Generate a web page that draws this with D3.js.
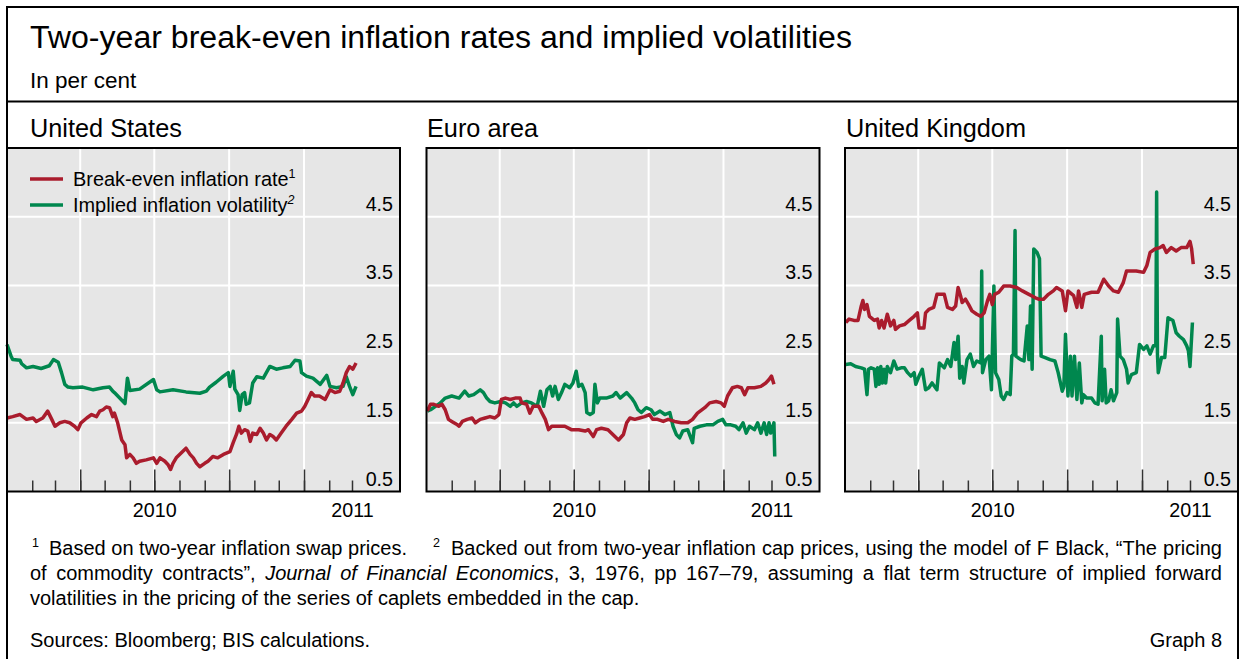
<!DOCTYPE html>
<html>
<head>
<meta charset="utf-8">
<script src="https://cdn.jsdelivr.net/npm/d3@7"></script>
<style>
  body { margin: 0; background: #fff; }
  svg text { font-family: "Liberation Sans", Arial, sans-serif; fill: #000; }
</style>
</head>
<body>
<div id="container"></div>
<script>
/* CONSTANTS AND GLOBALS */
const width = 1239,
  height = 659,
  plotTop = 148,
  plotBottom = 491.5,
  plotW = 393,
  plotLefts = [7, 426.5, 845],
  titleXs = [30, 427, 846],
  red = "#aa1c2d",
  green = "#00874e";

const start = new Date(2010, 0, 1),
  end = new Date(2011, 3, 29);

/* DATA  (days after 1 Jan 2010, per cent) */
const panelTitles = ["United States", "Euro area", "United Kingdom"];
const seriesNames = ["Break-even inflation rate", "Implied inflation volatility"];
const yTicks = [0.5, 1.5, 2.5, 3.5, 4.5];
const yearLabels = ["2010", "2011"];

const usBeiDays = [0,7,16,24,32,36,44,50,55,59,65,71,77,83,87,91,98,104,110,114,118,122,126,130,132,136,141,145,147,151,155,159,163,171,180,184,188,194,198,201,204,208,214,220,225,229,233,237,243,247,253,259,266,274,278,282,285,288,292,296,299,302,307,311,315,319,323,327,331,337,343,350,356,362,366,370,374,378,384,391,397,403,409,413,417,421,425,429];
const usBeiVals = [1.57,1.59,1.62,1.55,1.57,1.52,1.57,1.67,1.55,1.45,1.50,1.52,1.50,1.45,1.40,1.50,1.57,1.62,1.59,1.67,1.69,1.73,1.72,1.59,1.64,1.50,1.25,1.18,0.99,1.04,0.99,0.91,0.94,0.96,0.99,0.91,0.99,0.94,0.89,0.82,0.91,0.99,1.06,1.13,1.04,0.99,0.91,0.86,0.91,0.94,1.01,0.99,1.04,1.08,1.21,1.33,1.45,1.35,1.40,1.38,1.23,1.35,1.33,1.42,1.35,1.25,1.33,1.30,1.25,1.35,1.45,1.55,1.64,1.67,1.74,1.84,1.94,1.89,1.89,1.84,1.98,1.94,1.96,2.08,2.23,2.32,2.28,2.37];

const usVolDays = [0,5,7,16,18,24,32,42,52,57,63,67,71,75,81,93,106,118,126,130,132,145,148,151,163,180,184,188,204,220,237,245,249,257,266,272,274,278,280,284,286,289,292,294,298,302,307,315,323,331,339,348,354,360,362,368,376,385,393,397,405,413,417,421,425,429];
const usVolVals = [2.64,2.47,2.42,2.41,2.36,2.30,2.32,2.29,2.33,2.42,2.38,2.23,2.06,2.02,2.01,2.02,1.98,2.01,2.02,1.96,1.94,1.78,2.15,1.97,1.99,2.13,1.98,1.95,1.98,1.95,1.93,1.96,2.02,2.09,2.18,2.23,2.03,2.25,1.99,1.91,1.68,1.91,1.94,1.77,1.79,2.08,2.17,2.15,2.32,2.28,2.30,2.32,2.41,2.40,2.23,2.18,2.15,2.06,2.19,2.03,2.01,2.03,2.17,2.03,1.91,2.03];

const eaBeiDays = [1,5,9,15,19,23,27,31,38,40,44,50,56,60,66,72,78,84,89,92,97,103,109,115,117,123,127,131,138,142,146,150,154,162,170,178,187,195,199,205,209,215,223,229,236,242,246,250,256,262,268,274,278,284,291,297,305,313,321,327,333,342,348,356,362,366,370,376,382,387,391,395,403,411,417,421,424,427];
const eaBeiVals = [1.67,1.77,1.77,1.74,1.77,1.69,1.55,1.52,1.47,1.45,1.52,1.55,1.57,1.50,1.55,1.57,1.59,1.57,1.62,1.84,1.86,1.84,1.86,1.86,1.79,1.77,1.64,1.74,1.74,1.64,1.55,1.40,1.45,1.45,1.45,1.40,1.40,1.38,1.40,1.30,1.40,1.42,1.40,1.33,1.25,1.33,1.50,1.57,1.55,1.57,1.59,1.62,1.55,1.55,1.52,1.55,1.52,1.50,1.50,1.55,1.64,1.72,1.79,1.81,1.79,1.74,1.89,2.01,2.03,2.01,1.91,2.01,2.01,2.03,2.08,2.13,2.18,2.06];

const eaVolDays = [1,5,11,17,23,31,40,47,52,58,66,70,74,78,84,91,97,103,107,111,117,123,129,136,140,144,148,152,155,158,162,166,170,176,180,184,187,191,195,197,201,205,207,210,213,221,229,233,238,246,252,256,260,264,270,276,280,287,293,299,303,307,311,315,321,327,329,336,344,352,358,364,368,374,380,384,389,393,397,403,407,411,415,418,421,423,427,428];
const eaVolVals = [1.67,1.69,1.74,1.79,1.86,1.89,1.86,1.96,1.89,1.91,1.98,1.94,1.86,1.81,1.79,1.81,1.79,1.74,1.79,1.74,1.79,1.81,1.79,1.74,1.96,1.74,1.98,2.03,1.89,2.03,1.84,1.94,2.06,2.01,2.08,2.25,2.03,2.06,1.94,1.65,1.62,1.65,2.06,1.79,1.86,1.86,1.89,1.94,1.86,1.94,1.86,1.79,1.69,1.65,1.72,1.69,1.62,1.67,1.62,1.65,1.45,1.33,1.28,1.38,1.40,1.21,1.42,1.45,1.47,1.47,1.52,1.55,1.47,1.47,1.45,1.40,1.50,1.35,1.45,1.40,1.50,1.35,1.50,1.33,1.50,1.35,1.50,1.01];

const ukBeiDays = [1,5,11,16,20,22,24,27,30,36,40,42,45,48,52,56,60,62,67,73,79,85,89,91,97,99,103,109,113,122,126,132,136,139,142,144,148,152,156,162,167,171,175,178,181,184,189,195,203,211,218,226,234,238,244,250,256,260,267,271,274,281,285,287,291,294,303,311,318,324,330,336,342,346,350,358,367,371,375,381,387,391,395,401,407,413,420,424,426,428];
const ukBeiVals = [2.96,3.01,2.99,2.99,3.20,3.28,3.15,3.22,3.05,2.99,3.01,2.88,2.99,2.88,3.08,2.91,2.99,2.86,2.91,2.93,2.99,3.05,3.10,2.88,2.88,3.10,3.15,3.18,3.37,3.37,3.18,3.15,3.20,3.47,3.35,3.25,3.30,3.22,3.13,3.08,3.05,3.10,3.27,3.37,3.22,3.37,3.40,3.49,3.49,3.47,3.42,3.37,3.32,3.30,3.30,3.37,3.42,3.47,3.42,3.13,3.42,3.35,3.18,3.42,3.18,3.37,3.40,3.40,3.59,3.49,3.42,3.40,3.54,3.71,3.71,3.71,3.69,3.79,3.98,4.03,4.05,4.08,3.98,4.05,4.00,4.05,4.05,4.14,4.03,3.81];

const ukVolDays = [1,7,13,20,24,27,29,32,36,38,40,42,44,46,48,50,52,56,60,64,69,73,77,81,85,87,91,95,99,103,107,113,116,122,126,130,134,136,139,141,144,146,150,154,158,162,167,168,169,173,177,180,183,185,189,192,195,199,203,205,207,209,210,216,220,224,226,228,230,232,236,239,241,246,252,258,262,267,269,271,274,277,279,282,285,288,291,293,297,303,307,311,315,316,319,321,324,327,330,334,335,338,342,346,348,352,358,362,367,371,375,379,382,383,384,385,389,393,397,403,407,411,416,420,422,424,427];
const ukVolVals = [2.35,2.36,2.32,2.30,2.28,1.91,2.28,2.30,2.28,2.03,2.30,2.06,2.32,2.08,2.28,2.08,2.32,2.23,2.40,2.28,2.30,2.30,2.23,2.18,2.23,2.06,2.18,2.28,1.98,2.01,2.08,1.98,2.37,2.30,2.42,2.32,2.67,2.42,2.76,2.15,2.32,2.08,2.42,2.50,2.32,2.40,2.37,3.71,2.23,2.42,2.47,1.98,3.49,2.23,2.13,1.89,1.84,1.94,1.91,2.47,2.50,4.30,2.47,2.42,2.40,2.91,2.42,3.20,2.28,4.03,3.98,3.89,2.47,2.45,2.42,2.40,2.23,1.96,2.03,2.79,1.89,2.47,1.89,2.47,1.84,2.37,1.79,1.91,1.86,1.86,1.79,1.77,2.76,1.82,2.28,1.79,1.82,1.98,1.82,1.94,3.01,2.47,2.42,2.28,2.08,2.20,2.23,2.64,2.57,2.62,2.50,2.62,2.62,4.86,2.50,2.23,2.45,2.45,3.03,2.99,2.81,2.76,2.71,2.62,2.55,2.32,2.96];

const panels = [
  { bei: [usBeiDays, usBeiVals], vol: [usVolDays, usVolVals] },
  { bei: [eaBeiDays, eaBeiVals], vol: [eaVolDays, eaVolVals] },
  { bei: [ukBeiDays, ukBeiVals], vol: [ukVolDays, ukVolVals] }
];

const toPoints = ([days, vals]) =>
  days.map((d, i) => ({ date: d3.timeDay.offset(start, d), value: vals[i] }));

/* HTML ELEMENTS */
const svg = d3.select("#container")
  .append("svg")
  .attr("width", width)
  .attr("height", height);

// outer frame + header divider
svg.append("rect")
  .attr("x", 7).attr("y", 7)
  .attr("width", 1231).attr("height", 700)
  .attr("fill", "none").attr("stroke", "#000").attr("stroke-width", 2);

svg.append("line")
  .attr("x1", 7).attr("x2", 1238)
  .attr("y1", 101.5).attr("y2", 101.5)
  .attr("stroke", "#000").attr("stroke-width", 2);

svg.append("text")
  .attr("x", 30).attr("y", 48)
  .style("font-size", "32.1px")
  .text("Two-year break-even inflation rates and implied volatilities");

svg.append("text")
  .attr("x", 30).attr("y", 88)
  .style("font-size", "22.5px")
  .text("In per cent");

/* PANELS */
const y = d3.scaleLinear().domain([0.5, 5.5]).range([plotBottom, plotTop]);

const minorTicks = d3.timeMonth.range(new Date(2010, 1, 1), new Date(2011, 3, 1));
const majorTicks = minorTicks.filter(d => d.getMonth() % 3 === 0);
const yearTickDates = [new Date(2010, 6, 1), new Date(2011, 2, 1)];

panels.forEach((p, i) => {
  const left = plotLefts[i];
  const x = d3.scaleTime().domain([start, end]).range([left, left + plotW]);
  const g = svg.append("g");

  g.append("text")
    .attr("x", titleXs[i]).attr("y", 137)
    .style("font-size", "25.3px")
    .text(panelTitles[i]);

  // background
  g.append("rect")
    .attr("x", left).attr("y", plotTop)
    .attr("width", plotW).attr("height", plotBottom - plotTop)
    .attr("fill", "#e6e6e6");

  // grid
  g.selectAll(".hgrid")
    .data(yTicks.slice(1))
    .join("line")
    .attr("x1", left).attr("x2", left + plotW)
    .attr("y1", d => y(d)).attr("y2", d => y(d))
    .attr("stroke", "#fff").attr("stroke-width", 2);

  g.selectAll(".vgrid")
    .data(majorTicks)
    .join("line")
    .attr("x1", d => x(d)).attr("x2", d => x(d))
    .attr("y1", plotTop).attr("y2", plotBottom)
    .attr("stroke", "#fff").attr("stroke-width", 2);

  // month ticks (inward)
  const minorAxis = d3.axisBottom(x).tickValues(minorTicks).tickSize(-11).tickFormat("");
  const majorAxis = d3.axisBottom(x).tickValues(majorTicks).tickSize(-22).tickFormat("");
  [minorAxis, majorAxis].forEach(ax => {
    const a = g.append("g")
      .attr("transform", `translate(0,${plotBottom})`)
      .call(ax);
    a.select(".domain").remove();
    a.selectAll("line").attr("stroke", "#333").attr("stroke-width", 1.5);
  });

  // year labels
  const yearAxis = g.append("g")
    .attr("transform", `translate(0,${plotBottom})`)
    .call(d3.axisBottom(x).tickValues(yearTickDates).tickSize(0).tickPadding(11.5)
      .tickFormat((d, k) => yearLabels[k]));
  yearAxis.select(".domain").remove();
  yearAxis.selectAll("text")
    .style("font-size", "19.7px")
    .style("font-family", "'Liberation Sans', Arial, sans-serif")
    .attr("fill", "#000");

  // y labels inside right edge
  const yAxis = g.append("g")
    .attr("transform", `translate(${left + plotW},0)`)
    .call(d3.axisRight(y).tickValues(yTicks).tickSize(0).tickFormat(d3.format(".1f")));
  yAxis.select(".domain").remove();
  yAxis.selectAll("text")
    .attr("x", -7).attr("dy", null).attr("y", -6.5)
    .attr("text-anchor", "end")
    .attr("fill", "#000")
    .style("font-size", "19.7px")
    .style("font-family", "'Liberation Sans', Arial, sans-serif");

  // lines
  const line = d3.line().x(d => x(d.date)).y(d => y(d.value));
  g.append("path")
    .datum(toPoints(p.vol))
    .attr("d", line)
    .attr("fill", "none").attr("stroke", green)
    .attr("stroke-width", 3.5).attr("stroke-linejoin", "round");
  g.append("path")
    .datum(toPoints(p.bei))
    .attr("d", line)
    .attr("fill", "none").attr("stroke", red)
    .attr("stroke-width", 3.5).attr("stroke-linejoin", "round");

  // frame of the plot
  g.append("rect")
    .attr("x", left).attr("y", plotTop)
    .attr("width", plotW).attr("height", plotBottom - plotTop)
    .attr("fill", "none").attr("stroke", "#000").attr("stroke-width", 2);
});

/* LEGEND */
const legend = svg.append("g");
[red, green].forEach((c, k) => {
  const ly = 179 + k * 26;
  legend.append("line")
    .attr("x1", 30).attr("x2", 63).attr("y1", ly).attr("y2", ly)
    .attr("stroke", c).attr("stroke-width", 3.5);
  const t = legend.append("text")
    .attr("x", 73).attr("y", ly + 7)
    .style("font-size", "19.9px");
  t.append("tspan").text(seriesNames[k]);
  t.append("tspan")
    .attr("dy", -8).style("font-size", "12.5px")
    .style("font-style", k === 1 ? "italic" : "normal")
    .text(k + 1);
});

/* FOOTNOTES */
const fs = "20px";
const justify = (sel, target) => {
  const n = sel.node();
  const w = n.getComputedTextLength();
  const spaces = (n.textContent.match(/ /g) || []).length;
  sel.attr("word-spacing", (target - w) / spaces);
};

const sup = (xx, yy, s) => svg.append("text")
  .attr("x", xx).attr("y", yy - 8)
  .style("font-size", "12.5px").text(s);

sup(32, 555, "1");
svg.append("text").attr("x", 49).attr("y", 555).style("font-size", fs)
  .text("Based on two-year inflation swap prices.");
sup(433, 555, "2");
const l1 = svg.append("text").attr("x", 451).attr("y", 555).style("font-size", fs)
  .text("Backed out from two-year inflation cap prices, using the model of F Black, \u201cThe pricing");
justify(l1, 1222 - 451);

const l2 = svg.append("text").attr("x", 30).attr("y", 580).style("font-size", fs);
l2.append("tspan").text("of commodity contracts\u201d, ");
l2.append("tspan").style("font-style", "italic").text("Journal of Financial Economics");
l2.append("tspan").text(", 3, 1976, pp 167\u201379, assuming a flat term structure of implied forward");
justify(l2, 1222 - 30);

svg.append("text").attr("x", 30).attr("y", 605).style("font-size", fs)
  .text("volatilities in the pricing of the series of caplets embedded in the cap.");

svg.append("text").attr("x", 30).attr("y", 647).style("font-size", fs)
  .text("Sources: Bloomberg; BIS calculations.");
svg.append("text").attr("x", 1222).attr("y", 647).attr("text-anchor", "end").style("font-size", fs)
  .text("Graph 8");
</script>
</body>
</html>
